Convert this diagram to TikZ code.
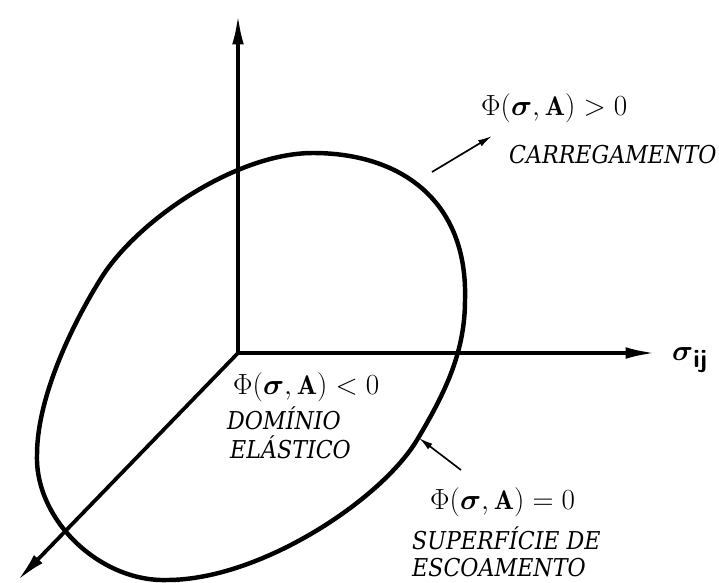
\documentclass[tikz,border=0pt]{standalone}
\usepackage{amsmath}
\usepackage{amssymb}
\usepackage{xcolor}
\usepackage{fontspec}
\newfontfamily\capfont{DejaVu Serif Condensed}
\usepackage{tikz}
\usetikzlibrary{arrows.meta, calc}

\begin{document}
\begin{tikzpicture}[x=0.03cm, y=-0.03cm,
    axis/.style={line width=3.2pt, -{Latex[length=26pt,width=10pt]}},
    surface/.style={line width=3.8pt},
    pointer/.style={line width=1.4pt, -{Latex[length=12pt,width=6pt]}},
    lab/.style={font=\fontsize{23}{27}\selectfont, inner sep=0pt, anchor=west},
    word/.style={font=\capfont\fontsize{21}{25}\selectfont\itshape, inner sep=0pt, anchor=west}]
    \useasboundingbox (0,0) rectangle (719,583);

    % Axes
    \coordinate (O) at (238,353);
    \coordinate (zend) at (238,14);
    \coordinate (xend) at (656,353);
    \coordinate (yend) at (17,581);
    \draw[axis] (O) -- (zend);
    \draw[axis] (O) -- (xend);
    \draw[axis] (O) -- (yend);
    \node[anchor=west, inner sep=0pt, font=\fontsize{31}{34}\selectfont] (sig) at (672,360)
        {$\boldsymbol{\sigma}_{\textsf{\textbf{ij}}}$};

    % Yield surface
    \draw[surface] (313,153) .. controls (400,153) and (468,200) .. (465,300)
        .. controls (465,350) and (447,390) .. (417,440)
        .. controls (381,500) and (260,580) .. (167,580)
        .. controls (100,582) and (35,520) .. (37,455)
        .. controls (37,395) and (75,320) .. (100,280)
        .. controls (135,222) and (235,153) .. cycle;

    % Loading
    \coordinate (cload) at (432,172);
    \coordinate (pload) at (492,136);
    \draw[pointer] (cload) -- (pload);
    \node[lab] (phipos) at (481,108) {$\Phi(\boldsymbol{\sigma},\mathbf{A})>0$};
    \node[word] (load) at (509,155) {CARREGAMENTO};

    % Elastic domain
    \node[lab] (phineg) at (233,387) {$\Phi(\boldsymbol{\sigma},\mathbf{A})<0$};
    \node[word] (dom) at (227,418) {DOMÍNIO};
    \node[word] (ela) at (230,447) {ELÁSTICO};

    % Yield surface label
    \coordinate (cyield) at (419,438);
    \coordinate (pyield) at (461,470);
    \draw[pointer] (pyield) -- (cyield);
    \node[lab] (phizero) at (430,502) {$\Phi(\boldsymbol{\sigma},\mathbf{A})=0$};
    \node[word] (surf) at (412,538) {SUPERFÍCIE DE};
    \node[word] (esc) at (412,568) {ESCOAMENTO};
\end{tikzpicture}
\end{document}
